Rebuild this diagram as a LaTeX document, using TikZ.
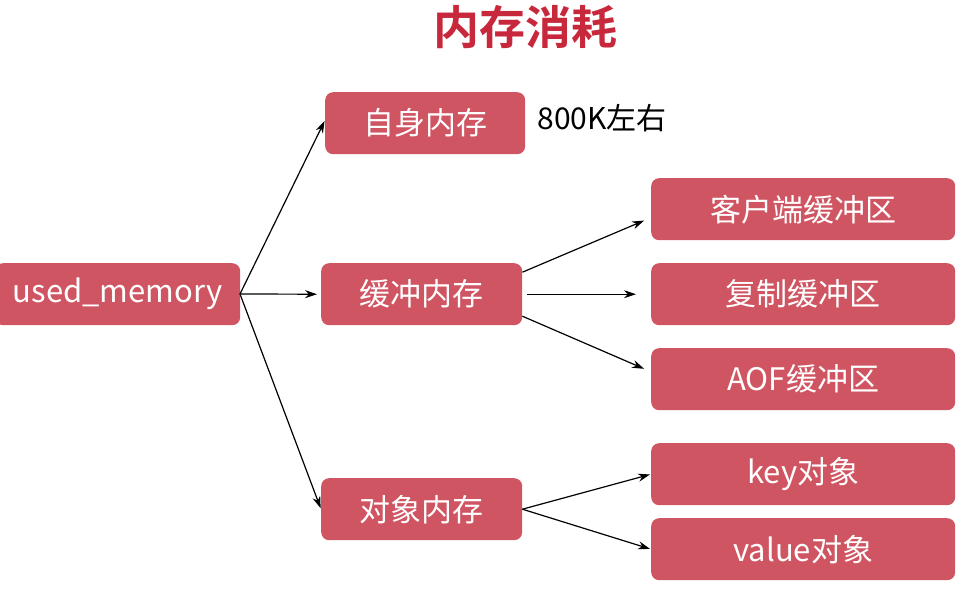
\documentclass[tikz,border=0pt]{standalone}
\usepackage{fontspec}
\setmainfont{Noto Sans CJK SC}
\newfontfamily\cjkbold{Noto Sans CJK SC Bold}
\usetikzlibrary{arrows.meta}
\definecolor{boxred}{RGB}{208,85,98}
\definecolor{titlered}{RGB}{200,40,60}
\tikzset{
  redbox/.style={draw=none, fill=boxred, rounded corners=8pt, text=white, font=\fontsize{31}{34}\selectfont, inner sep=0pt, anchor=north west},
  conn/.style={-{Stealth[length=12pt,width=8pt]}, line width=1.2pt, black, shorten >=1pt}
}
\begin{document}
\begin{tikzpicture}[x=1pt,y=-1pt]
\useasboundingbox (0,0) rectangle (970,597);
\node[font=\cjkbold\fontsize{46}{50}\selectfont, text=titlered] (title) at (525,27) {内存消耗};
\node[redbox, minimum width=245pt, minimum height=62pt] (used) at (-5,263) {used\_memory};
\node[redbox, minimum width=200pt, minimum height=62pt] (self) at (325,92) {自身内存};
\node[redbox, minimum width=201pt, minimum height=62pt] (buf) at (321,263) {缓冲内存};
\node[redbox, minimum width=201pt, minimum height=62pt] (obj) at (321,478) {对象内存};
\node[anchor=west, font=\fontsize{30}{33}\selectfont] (note) at (534,118) {800K左右};
\node[redbox, minimum width=304pt, minimum height=62pt] (client) at (651,178) {客户端缓冲区};
\node[redbox, minimum width=304pt, minimum height=62pt] (repl) at (651,263) {复制缓冲区};
\node[redbox, minimum width=304pt, minimum height=62pt] (aof) at (651,348) {AOF缓冲区};
\node[redbox, minimum width=304pt, minimum height=62pt] (key) at (651,443) {key对象};
\node[redbox, minimum width=304pt, minimum height=62pt] (val) at (651,518) {value对象};
\coordinate (uo) at (240,294);
\draw[conn] (uo) -- ([yshift=3pt]self.west);
\draw[conn] (uo) -- ([xshift=-3pt]buf.west);
\draw[conn] (uo) -- (obj.west);
\draw[conn] ([yshift=22pt]buf.east) -- ([xshift=-6pt,yshift=-11pt]client.west);
\draw[conn] ([xshift=5pt]buf.east) -- ([xshift=-14pt]repl.west);
\draw[conn] ([yshift=-22pt]buf.east) -- ([xshift=-6pt,yshift=10pt]aof.west);
\draw[conn] (obj.east) -- (key.west);
\draw[conn] (obj.east) -- (val.west);
\end{tikzpicture}
\end{document}
